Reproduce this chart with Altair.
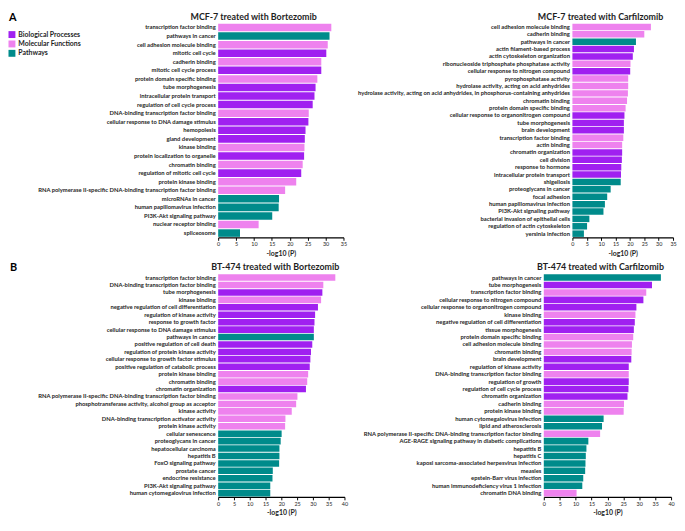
import altair as alt
import pandas as pd

BP, MF, PW = "Biological Processes", "Molecular Functions", "Pathways"
cat_domain = [BP, MF, PW]
cat_colors = ["#A020F0", "#EE82EE", "#008B8B"]

a_ticks = [0, 5, 10, 15, 20, 25, 30, 35]
b_ticks = [0, 5, 10, 15, 20, 25, 30, 35, 40]

# ---- A: MCF-7 + Bortezomib
a1_terms = [
    "transcription factor binding", "pathways in cancer", "cell adhesion molecule binding",
    "mitotic cell cycle", "cadherin binding", "mitotic cell cycle process",
    "protein domain specific binding", "tube morphogenesis", "intracellular protein transport",
    "regulation of cell cycle process", "DNA-binding transcription factor binding",
    "cellular response to DNA damage stimulus", "hemopoiesis", "gland development",
    "kinase binding", "protein localization to organelle", "chromatin binding",
    "regulation of mitotic cell cycle", "protein kinase binding",
    "RNA polymerase II-specific DNA-binding transcription factor binding",
    "microRNAs in cancer", "human papillomavirus infection", "PI3K-Akt signaling pathway",
    "nuclear receptor binding", "spliceosome",
]
a1_values = [31.6, 31.1, 30.6, 30.2, 28.8, 28.8, 27.7, 27.2, 26.9, 26.4, 25.3, 25.2, 24.4,
             24.2, 24.1, 24.0, 23.6, 23.2, 21.8, 18.7, 17.0, 16.9, 15.1, 11.3, 6.1]
a1_types = [MF, PW, MF, BP, MF, BP, MF, BP, BP, BP, MF, BP, BP, BP, MF, BP, MF, BP, MF, MF,
            PW, PW, PW, MF, PW]

# ---- A: MCF-7 + Carfilzomib
a2_terms = [
    "cell adhesion molecule binding", "cadherin binding", "pathways in cancer",
    "actin filament-based process", "actin cytoskeleton organization",
    "ribonucleoside triphosphate phosphatase activity", "cellular response to nitrogen compound",
    "pyrophosphatase activity", "hydrolase activity, acting on acid anhydrides",
    "hydrolase activity, acting on acid anhydrides, in phosphorus-containing anhydrides",
    "chromatin binding", "protein domain specific binding",
    "cellular response to organonitrogen compound", "tube morphogenesis", "brain development",
    "transcription factor binding", "actin binding", "chromatin organization", "cell division",
    "response to hormone", "intracellular protein transport", "shigellosis",
    "proteoglycans in cancer", "focal adhesion", "human papillomavirus infection",
    "PI3K-Akt signaling pathway", "bacterial invasion of epithelial cells",
    "regulation of actin cytoskeleton", "yersinia infection",
]
a2_values = [27.3, 25.0, 22.1, 21.4, 21.0, 20.2, 20.1, 19.4, 19.4, 19.3, 19.0, 18.5, 18.1,
             17.9, 17.9, 17.7, 17.3, 17.3, 17.2, 17.0, 16.9, 16.8, 13.3, 12.1, 11.3, 10.8,
             5.9, 5.1, 4.0]
a2_types = [MF, MF, PW, BP, BP, MF, BP, MF, MF, MF, MF, MF, BP, BP, BP, MF, MF, BP, BP, BP,
            BP, PW, PW, PW, PW, PW, PW, PW, PW]

# ---- B: BT-474 + Bortezomib
b1_terms = [
    "transcription factor binding", "DNA-binding transcription factor binding",
    "tube morphogenesis", "kinase binding", "negative regulation of cell differentiation",
    "regulation of kinase activity", "response to growth factor",
    "cellular response to DNA damage stimulus", "pathways in cancer",
    "positive regulation of cell death", "regulation of protein kinase activity",
    "cellular response to growth factor stimulus", "positive regulation of catabolic process",
    "protein kinase binding", "chromatin binding", "chromatin organization",
    "RNA polymerase II-specific DNA-binding transcription factor binding",
    "phosphotransferase activity, alcohol group as acceptor", "kinase activity",
    "DNA-binding transcription activator activity", "protein kinase activity",
    "cellular senescence", "proteoglycans in cancer", "hepatocellular carcinoma",
    "hepatitis B", "FoxO signaling pathway", "prostate cancer", "endocrine resistance",
    "PI3K-Akt signaling pathway", "human cytomegalovirus infection",
]
b1_values = [37.1, 33.3, 33.0, 32.6, 31.6, 30.7, 30.5, 30.3, 30.3, 29.8, 29.4, 29.2, 29.0,
             28.5, 28.2, 27.8, 25.1, 24.7, 23.3, 21.3, 21.2, 20.1, 19.8, 19.4, 19.4, 19.3,
             17.3, 17.2, 16.5, 16.5]
b1_types = [MF, MF, BP, MF, BP, BP, BP, BP, PW, BP, BP, BP, BP, MF, MF, BP, MF, MF, MF, MF,
            MF, PW, PW, PW, PW, PW, PW, PW, PW, PW]

# ---- B: BT-474 + Carfilzomib
b2_terms = [
    "pathways in cancer", "tube morphogenesis", "transcription factor binding",
    "cellular response to nitrogen compound", "cellular response to organonitrogen compound",
    "kinase binding", "negative regulation of cell differentiation", "tissue morphogenesis",
    "protein domain specific binding", "cell adhesion molecule binding", "chromatin binding",
    "brain development", "regulation of kinase activity",
    "DNA-binding transcription factor binding", "regulation of growth",
    "regulation of cell cycle process", "chromatin organization", "cadherin binding",
    "protein kinase binding", "human cytomegalovirus infection", "lipid and atherosclerosis",
    "RNA polymerase II-specific DNA-binding transcription factor binding",
    "AGE-RAGE signaling pathway in diabetic complications", "hepatitis B", "hepatitis C",
    "kaposi sarcoma-associated herpesvirus infection", "measles",
    "epstein-Barr virus infection", "human immunodeficiency virus 1 infection",
    "chromatin DNA binding",
]
b2_values = [36.8, 34.0, 32.2, 31.3, 29.1, 28.8, 28.6, 28.3, 28.1, 27.7, 27.6, 27.5, 26.7,
             26.7, 26.7, 26.6, 26.3, 25.2, 25.1, 18.8, 18.3, 17.7, 14.0, 13.4, 13.2, 13.1,
             13.0, 12.4, 12.1, 10.3]
b2_types = [PW, BP, MF, BP, BP, MF, BP, BP, MF, MF, MF, BP, BP, MF, BP, BP, BP, MF, MF, PW,
            PW, MF, PW, PW, PW, PW, PW, PW, PW, MF]

FONT = "Lato"
TXT = "#1e1e1e"

legend = alt.Legend(
    title=None, orient="none", legendX=-212.5, legendY=8, symbolType="square",
    symbolSize=49, symbolStrokeWidth=0, labelFont=FONT, labelFontSize=7,
    labelFontWeight="bold", labelColor=TXT, rowPadding=1.5, padding=0, labelOffset=3,
)


def panel(title, terms, values, types, ticks, width, height, extent, title_dx, letter):
    df = pd.DataFrame({"term": terms, "value": values, "type": types})
    bars = alt.Chart(df).mark_bar().encode(
        y=alt.Y(
            "term:N", sort=terms, title=None,
            scale=alt.Scale(paddingInner=0.12, paddingOuter=0.06),
            axis=alt.Axis(
                domain=False, ticks=False, labelPadding=3, labelFont=FONT,
                labelFontSize=5.9, labelFontWeight="bold", labelColor=TXT,
                minExtent=extent, maxExtent=extent, labelLimit=extent - 3,
            ),
        ),
        x=alt.X(
            "value:Q", title="-log10 (P)",
            scale=alt.Scale(domain=[ticks[0], ticks[-1]], nice=False),
            axis=alt.Axis(
                values=ticks, grid=False, domainColor="black", domainWidth=1.2,
                tickColor="black", tickSize=3, tickWidth=1, labelFont=FONT,
                labelFontSize=5.5, labelColor=TXT, labelFlush=False, labelPadding=1.5,
                titleFont=FONT, titleFontSize=7, titleFontWeight="bold", titleColor=TXT,
                titlePadding=2, minExtent=10, maxExtent=10,
            ),
        ),
        color=alt.Color("type:N", scale=alt.Scale(domain=cat_domain, range=cat_colors),
                        legend=legend),
    )
    tdf = pd.DataFrame({"t": [title]})
    ttl = alt.Chart(tdf).mark_text(
        align="left", baseline="alphabetic", fontSize=9, fontWeight="bold", font=FONT,
        color=TXT,
    ).encode(text="t:N", x=alt.value(title_dx), y=alt.value(-3.5))
    layers = [bars, ttl]
    if letter:
        ldf = pd.DataFrame({"t": [letter]})
        layers.append(
            alt.Chart(ldf).mark_text(align="left", baseline="alphabetic", fontSize=11,
                                     fontWeight="bold", font=FONT, color="black")
            .encode(text="t:N", x=alt.value(-extent + 1), y=alt.value(-2.5))
        )
    return alt.layer(*layers).properties(width=width, height=height)


pA1 = panel("MCF-7 treated with Bortezomib", a1_terms, a1_values, a1_types, a_ticks,
            127, 217, 213, -28, "A")
pA2 = panel("MCF-7 treated with Carfilzomib", a2_terms, a2_values, a2_types, a_ticks,
            102, 217, 228, -35, None)
pB1 = panel("BT-474 treated with Bortezomib", b1_terms, b1_values, b1_types, b_ticks,
            128, 226, 212, -7, "B")
pB2 = panel("BT-474 treated with Carfilzomib", b2_terms, b2_values, b2_types, b_ticks,
            129, 226, 198, -7, None)

row1 = alt.hconcat(pA1, pA2, spacing=0)
row2 = alt.hconcat(pB1, pB2, spacing=0)

chart = (
    alt.vconcat(row1, row2, spacing=6)
    .resolve_scale(color="shared")
    .properties(padding=0, background="white")
    .configure_view(stroke=None)
)

chart.save("out.html", embed_options={"renderer": "svg", "actions": False})
